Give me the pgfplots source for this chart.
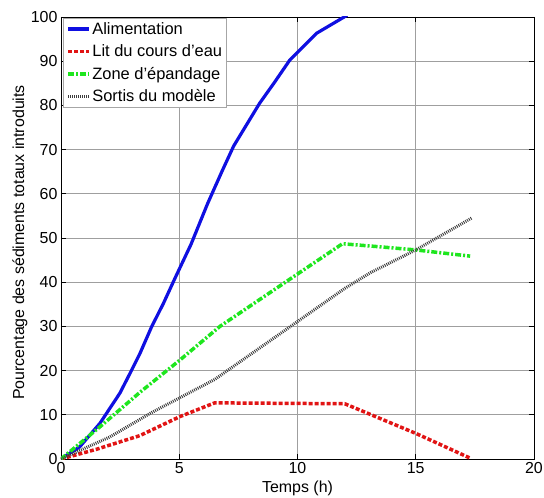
\documentclass[border=0pt]{standalone}
\usepackage{fontspec}
\setmainfont{Liberation Sans}
\usepackage{pgfplots}
\pgfplotsset{compat=1.18}
\definecolor{mblue}{RGB}{15,15,225}
\definecolor{mred}{RGB}{225,20,20}
\definecolor{mgreen}{RGB}{30,230,30}
\definecolor{mgray}{RGB}{60,60,60}
\begin{document}
\begin{tikzpicture}
\begin{axis}[
  scale only axis, width=473bp, height=442bp,
  xmin=0, xmax=20, ymin=0, ymax=100,
  xtick={0,5,10,15,20}, ytick={0,10,...,100},
  grid=major, major grid style={gray!75, line width=0.7bp},
  tick align=inside, major tick length=5bp,
  tick style={black, line width=0.7bp},
  axis line style={black, line width=0.8bp},
  font=\fontsize{16}{19}\selectfont,
  tick label style={font=\fontsize{16}{19}\selectfont},
  /pgf/number format/assume math mode=true,
  xlabel={Temps (h)},
  ylabel={Pourcentage des sédiments totaux introduits},
  every axis x label/.style={at={(axis description cs:0.5,-0.066)}, anchor=center},
  every axis y label/.style={at={(axis description cs:-0.087,0.49)}, rotate=90, anchor=center},
  legend cell align=left,
  legend style={at={(axis description cs:0.005,0.998)}, anchor=north west,
    draw=gray!70, line width=0.6bp, font=\fontsize{16.5}{18}\selectfont,
    inner sep=3bp, row sep=6.5bp, nodes={inner sep=1.2bp}},
  legend image code/.code={\draw[#1] (0bp,0bp) -- (21bp,0bp);},
]
\addplot[mblue, line width=3.2bp] coordinates {
 (0,0) (0.8,2.8) (1.65,8.1) (2.49,14.9) (2.92,19.4) (3.34,23.9) (3.83,29.9)
 (4.33,35.2) (4.82,40.9) (5.5,48.6) (6.2,57.8) (6.8,65.0) (7.3,70.8) (8.4,80.5)
 (9.0,85.0) (9.68,90.3) (10,92) (10.8,96.3) (12.1,100.4)};
\addlegendentry{Alimentation}
\addplot[mred, line width=3.5bp, dash pattern=on 4bp off 2bp] coordinates {
 (0,0) (1.5,2.2) (3.34,5.3) (5.03,9.6) (6.5,12.7) (12,12.5) (15,5.8) (17.3,0.2)};
\addlegendentry{Lit du cours d'eau}
\addplot[mgreen, line width=3.5bp, dash pattern=on 6bp off 2bp on 2bp off 2bp] coordinates {
 (0,0) (1.65,7.3) (3.34,15.1) (5.03,22.4) (6.72,30.0) (9.82,41.2) (11.9,48.7)
 (13.5,48.0) (15,47.3) (17.3,45.9)};
\addlegendentry{Zone d'épandage}
\addplot[mgray, line width=3bp, dash pattern=on 0.9bp off 1.1bp] coordinates {
 (0,0) (2.07,5.0) (3.76,10.3) (6.5,18.0) (10,31.1) (12,38.6) (13.1,42.2)
 (15,47.3) (17.36,54.5)};
\addlegendentry{Sortis du modèle}
\end{axis}
\pgfresetboundingbox
\path (current axis.south west) ++(-61bp,-39bp);
\path (current axis.north east) ++(10bp,17bp);
\end{tikzpicture}
\end{document}
